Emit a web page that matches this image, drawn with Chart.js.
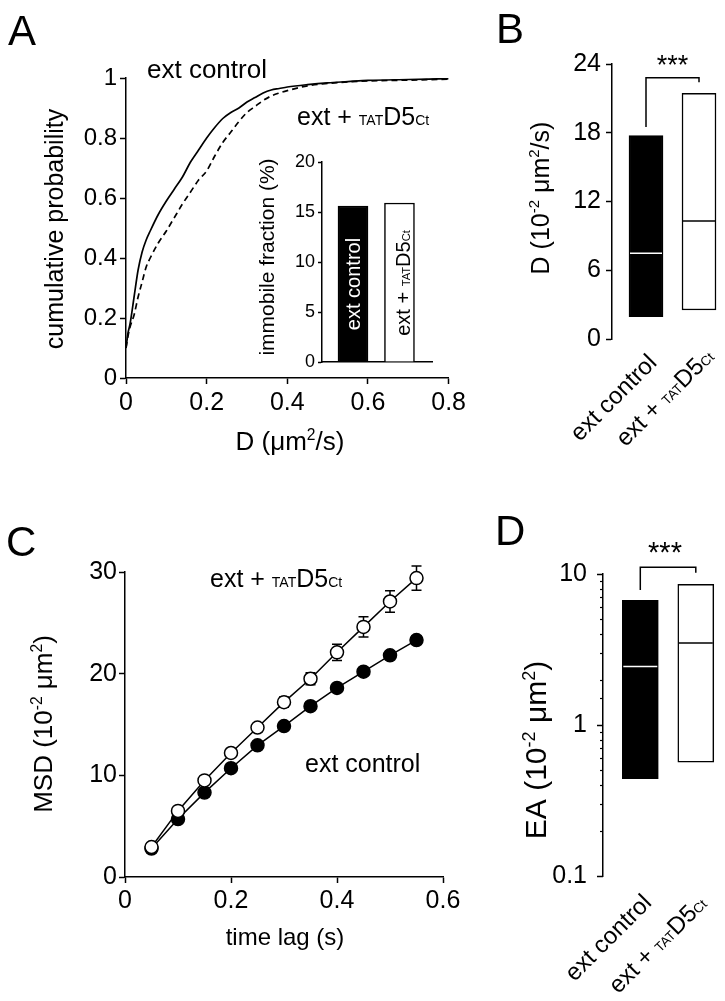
<!DOCTYPE html>
<html>
<head>
<meta charset="utf-8">
<script src="https://cdn.jsdelivr.net/npm/chart.js@4.4.1/dist/chart.umd.min.js"></script>
<style>
  html, body { margin: 0; padding: 0; background: #fff; }
  body { width: 725px; height: 1001px; position: relative; overflow: hidden; }
  canvas { position: absolute; }
</style>
</head>
<body>
<canvas id="cA" width="470" height="470" style="left:0px;top:0px"></canvas>
<canvas id="cI" width="220" height="240" style="left:230px;top:140px"></canvas>
<canvas id="cB" width="245" height="480" style="left:480px;top:0px"></canvas>
<canvas id="cC" width="470" height="470" style="left:0px;top:500px"></canvas>
<canvas id="cD" width="245" height="501" style="left:480px;top:500px"></canvas>
<script>
// ---- data ----
// A: cumulative distributions of D (um2/s)
const cdfD = [0, 0.005, 0.01, 0.02, 0.03, 0.04, 0.05, 0.06, 0.08, 0.10, 0.12, 0.14, 0.16, 0.18, 0.20,
  0.22, 0.24, 0.26, 0.28, 0.30, 0.32, 0.34, 0.36, 0.38, 0.40, 0.45, 0.50, 0.55, 0.60, 0.70, 0.80];
const cdfControl = [0.10, 0.15, 0.18, 0.27, 0.36, 0.42, 0.46, 0.49, 0.545, 0.59, 0.63, 0.67, 0.72, 0.76, 0.80,
  0.835, 0.865, 0.885, 0.90, 0.92, 0.935, 0.95, 0.96, 0.965, 0.97, 0.978, 0.984, 0.988, 0.992, 0.995, 0.998];
const cdfTat = [0.10, 0.14, 0.17, 0.21, 0.27, 0.32, 0.37, 0.40, 0.45, 0.49, 0.535, 0.58, 0.62, 0.66, 0.69,
  0.74, 0.785, 0.82, 0.855, 0.885, 0.905, 0.925, 0.94, 0.95, 0.958, 0.974, 0.982, 0.987, 0.99, 0.993, 0.996];
// A inset: immobile fraction (%)
const immobileFraction = [15.6, 15.9];
// B: D (10^-2 um2/s) boxes
const dLow = [1.95, 2.53];
const dHigh = [17.75, 21.45];
const dMedian = [7.48, 10.3];
const bracketB = [22.8, 18.5, 22.4];   // top, left end, right end
// C: MSD vs time lag
const lagTimes = [0.05, 0.10, 0.15, 0.20, 0.25, 0.30, 0.35, 0.40, 0.45, 0.50, 0.55];
const msdControl = [2.8, 5.7, 8.3, 10.7, 12.95, 14.85, 16.8, 18.6, 20.2, 21.8, 23.3];
const msdTat = [2.95, 6.5, 9.5, 12.2, 14.7, 17.2, 19.5, 22.1, 24.6, 27.1, 29.4];
const semControl = [0.1, 0.15, 0.2, 0.2, 0.25, 0.25, 0.3, 0.3, 0.35, 0.35, 0.4];
const semTat = [0.15, 0.2, 0.25, 0.3, 0.35, 0.5, 0.6, 0.8, 1.0, 1.05, 1.2];
// D: EA (10^-2 um2) boxes, log scale
const eaLow = [0.441, 0.568];
const eaHigh = [6.70, 8.55];
const eaMedian = [2.44, 3.49];
const bracketD = [11.1, 7.84, 10.2];
// labels
const ctlLabel = [['ext control']];
const tatLabel = [['ext + '], ['TAT', 0.56], ['D5'], ['Ct', 0.56]];
const groupLabels = [ctlLabel, tatLabel];

// condensed face if the narrow Liberation cut is installed
function hasFont(name) {
  const c = document.createElement('canvas').getContext('2d');
  c.font = '40px monospace';
  const w1 = c.measureText('ext control 0.123').width;
  c.font = "40px '" + name + "', monospace";
  return Math.abs(c.measureText('ext control 0.123').width - w1) > 1;
}
const NARROW = hasFont('Liberation Sans Narrow');
const FONT = (NARROW ? "'Liberation Sans Narrow', " : '') + "'Liberation Sans', Arial, sans-serif";
const K = NARROW ? 1.15 : 1;
const fs = n => Math.round(n * K * 10) / 10;

Chart.defaults.font.family = FONT;
Chart.defaults.color = '#000';
Chart.defaults.animation = false;
Chart.defaults.plugins.legend.display = false;
Chart.defaults.plugins.tooltip.enabled = false;

// text with mixed sizes: parts = [text, scale, rise]
function rich(ctx, parts, x, y, size, o) {
  o = o || {};
  ctx.save();
  ctx.translate(x, y);
  if (o.rot) ctx.rotate(o.rot);
  ctx.fillStyle = o.color || '#000';
  ctx.textBaseline = 'alphabetic';
  ctx.textAlign = 'left';
  const fnt = p => Math.round(size * (p[1] || 1) * 10) / 10 + 'px ' + FONT;
  let w = 0;
  parts.forEach(p => { ctx.font = fnt(p); w += ctx.measureText(p[0]).width; });
  let cx = o.align === 'center' ? -w / 2 : o.align === 'right' ? -w : 0;
  parts.forEach(p => {
    ctx.font = fnt(p);
    ctx.fillText(p[0], cx, -(p[2] || 0) * size);
    cx += ctx.measureText(p[0]).width;
  });
  ctx.restore();
}

function textPlugin(offX, offY, items) {
  return {
    id: 'texts',
    afterDraw(chart) {
      items.forEach(t => rich(chart.ctx, t.parts, t.x - offX, t.y - offY, t.fixed ? t.size : fs(t.size),
        { rot: t.rot, align: t.align, color: t.color }));
    }
  };
}

const sup = t => [t, 0.6, 0.38];
const ROT = -Math.PI / 2;
const LETTER = NARROW ? 45 : 42;
const axisGrid = len => ({ drawOnChartArea: false, tickLength: len, tickColor: '#000', tickWidth: 1.5 });
const axisBorder = { color: '#000', width: 1.5 };
const plain = v => String(Math.round(v * 100) / 100);

// box plots: median line, bracket, rotated group labels (offsets per label)
function boxPlugin(medians, bracket, offs) {
  return {
    id: 'boxes',
    afterDatasetsDraw(chart) {
      const ctx = chart.ctx, x = chart.scales.x, y = chart.scales.y;
      const bars = chart.getDatasetMeta(0).data;
      ctx.save();
      ctx.lineWidth = 1.5;
      medians.forEach((m, i) => {
        const b = bars[i], py = y.getPixelForValue(m);
        ctx.strokeStyle = i === 0 ? '#fff' : '#000';
        ctx.beginPath();
        ctx.moveTo(b.x - b.width / 2 + 1, py);
        ctx.lineTo(b.x + b.width / 2 - 1, py);
        ctx.stroke();
      });
      const x0 = x.getPixelForValue(0), x1 = x.getPixelForValue(1);
      ctx.strokeStyle = '#000';
      ctx.beginPath();
      ctx.moveTo(x0, y.getPixelForValue(bracket[1]));
      ctx.lineTo(x0, y.getPixelForValue(bracket[0]));
      ctx.lineTo(x1, y.getPixelForValue(bracket[0]));
      ctx.lineTo(x1, y.getPixelForValue(bracket[2]));
      ctx.stroke();
      ctx.restore();
      groupLabels.forEach((parts, i) => {
        rich(ctx, parts, x.getPixelForValue(i) + offs[i][0], chart.chartArea.bottom + offs[i][1], fs(24),
          { rot: -Math.PI / 4, align: 'right' });
      });
    }
  };
}

// ---- A ----
new Chart(document.getElementById('cA'), {
  type: 'line',
  data: {
    datasets: [
      { data: cdfD.map((d, i) => ({ x: d, y: cdfControl[i] })), borderColor: '#000', borderWidth: 1.7,
        pointRadius: 0, cubicInterpolationMode: 'monotone' },
      { data: cdfD.map((d, i) => ({ x: d, y: cdfTat[i] })), borderColor: '#000', borderWidth: 1.7,
        borderDash: [6, 4], pointRadius: 0, cubicInterpolationMode: 'monotone' }
    ]
  },
  options: {
    responsive: false,
    layout: { padding: { left: 0, top: 78, right: 20, bottom: 0 } },
    scales: {
      x: { type: 'linear', min: 0, max: 0.8,
        ticks: { stepSize: 0.2, font: { size: fs(25) }, padding: 4, maxRotation: 0, callback: plain },
        grid: axisGrid(6), border: axisBorder, afterFit: s => { s.height = 92; } },
      y: { min: 0, max: 1, ticks: { stepSize: 0.2, font: { size: fs(24) }, padding: 3, callback: plain },
        grid: axisGrid(6), border: axisBorder, afterFit: s => { s.width = 126; } }
    }
  },
  plugins: [textPlugin(0, 0, [
    { parts: [['A']], x: 8, y: 45, size: LETTER, fixed: true },
    { parts: ctlLabel, x: 147, y: 78, size: 26 },
    { parts: tatLabel, x: 297, y: 125, size: 25 },
    { parts: [['D (μm'], sup('2'), ['/s)']], x: 290, y: 450, size: 26, align: 'center' },
    { parts: [['cumulative probability']], x: 63, y: 229, size: 25, rot: ROT, align: 'center' }
  ])]
});

// ---- A inset ----
new Chart(document.getElementById('cI'), {
  type: 'bar',
  data: {
    datasets: [{ data: immobileFraction.map((v, i) => ({ x: i, y: v })), backgroundColor: ['#000', '#fff'],
      borderColor: '#000', borderWidth: 1.5, barThickness: 30 }]
  },
  options: {
    responsive: false,
    layout: { padding: { left: 0, top: 22, right: 18, bottom: 0 } },
    scales: {
      x: { type: 'linear', offset: false, min: -0.667, max: 1.70, ticks: { display: false },
        grid: { offset: false, drawOnChartArea: false, drawTicks: false }, border: axisBorder,
        afterFit: s => { s.height = 18; } },
      y: { min: 0, max: 20, ticks: { stepSize: 5, font: { size: fs(18) }, padding: 3 },
        grid: axisGrid(4), border: axisBorder, afterFit: s => { s.width = 92; } }
    }
  },
  plugins: [textPlugin(230, 140, [
    { parts: [['immobile fraction (%)']], x: 274, y: 257, size: 21, rot: ROT, align: 'center' },
    { parts: ctlLabel, x: 360, y: 284, size: 20, rot: ROT, align: 'center', color: '#fff' },
    { parts: tatLabel, x: 410, y: 283, size: 20, rot: ROT, align: 'center' }
  ])]
});

// ---- B ----
new Chart(document.getElementById('cB'), {
  type: 'bar',
  data: {
    datasets: [{ data: dLow.map((v, i) => ({ x: i, y: [v, dHigh[i]] })), backgroundColor: ['#000', '#fff'],
      borderColor: '#000', borderWidth: 1.5, borderSkipped: false, barThickness: 34 }]
  },
  options: {
    responsive: false,
    layout: { padding: { left: 0, top: 64, right: 5, bottom: 141 } },
    scales: {
      x: { type: 'linear', display: false, offset: false, grid: { offset: false }, min: -0.6415, max: 1.396 },
      y: { min: 0, max: 24, ticks: { stepSize: 6, font: { size: fs(25) }, padding: 5 },
        grid: axisGrid(6), border: axisBorder, afterFit: s => { s.width = 132; } }
    }
  },
  plugins: [boxPlugin(dMedian, bracketB, [[12, 25], [16, 19]]), textPlugin(480, 0, [
    { parts: [['B']], x: 496, y: 43, size: LETTER, fixed: true },
    { parts: [['***']], x: 672.5, y: 74, size: 27, align: 'center' },
    { parts: [['D (10'], sup('-2'), [' μm'], sup('2'), ['/s)']], x: 548.5, y: 198, size: 25, rot: ROT, align: 'center' }
  ])]
});

// ---- C ----
function errorBars(sems) {
  return {
    id: 'errbars',
    beforeDatasetsDraw(chart) {
      const ctx = chart.ctx, x = chart.scales.x, y = chart.scales.y;
      ctx.save();
      ctx.strokeStyle = '#000';
      ctx.lineWidth = 1.5;
      chart.data.datasets.forEach((ds, k) => {
        ds.data.forEach((p, i) => {
          const px = x.getPixelForValue(p.x);
          const hi = y.getPixelForValue(p.y + sems[k][i]), lo = y.getPixelForValue(p.y - sems[k][i]);
          ctx.beginPath();
          ctx.moveTo(px, lo); ctx.lineTo(px, hi);
          ctx.moveTo(px - 5, hi); ctx.lineTo(px + 5, hi);
          ctx.moveTo(px - 5, lo); ctx.lineTo(px + 5, lo);
          ctx.stroke();
        });
      });
      ctx.restore();
    }
  };
}

new Chart(document.getElementById('cC'), {
  type: 'line',
  data: {
    datasets: [
      { data: lagTimes.map((t, i) => ({ x: t, y: msdTat[i] })), borderColor: '#000', borderWidth: 1.5,
        pointRadius: 6.5, pointBackgroundColor: '#fff', pointBorderColor: '#000', pointBorderWidth: 1.5, clip: false },
      { data: lagTimes.map((t, i) => ({ x: t, y: msdControl[i] })), borderColor: '#000', borderWidth: 1.5,
        pointRadius: 6.5, pointBackgroundColor: '#000', pointBorderColor: '#000', pointBorderWidth: 1.5, clip: false }
    ]
  },
  options: {
    responsive: false,
    layout: { padding: { left: 0, top: 72, right: 27, bottom: 0 } },
    scales: {
      x: { type: 'linear', min: 0, max: 0.6,
        ticks: { stepSize: 0.2, font: { size: fs(25) }, padding: 3, maxRotation: 0, callback: plain },
        grid: axisGrid(6), border: axisBorder, afterFit: s => { s.height = 93; } },
      y: { min: 0, max: 30, ticks: { stepSize: 10, font: { size: fs(25) }, padding: 2 },
        grid: axisGrid(6), border: axisBorder, afterFit: s => { s.width = 125; } }
    }
  },
  plugins: [errorBars([semTat, semControl]), textPlugin(0, 500, [
    { parts: [['C']], x: 6, y: 556, size: LETTER, fixed: true },
    { parts: tatLabel, x: 210, y: 587, size: 25 },
    { parts: ctlLabel, x: 305, y: 772, size: 25 },
    { parts: [['time lag (s)']], x: 285, y: 945, size: 24, align: 'center' },
    { parts: [['MSD (10'], sup('-2'), [' μm'], sup('2'), [')']], x: 52, y: 724, size: 26, rot: ROT, align: 'center' }
  ])]
});

// ---- D ----
const isDecade = v => Math.abs(Math.log10(v) - Math.round(Math.log10(v))) < 1e-6;
const logTicks = {
  id: 'logticks',
  afterDraw(chart) {
    const ctx = chart.ctx, y = chart.scales.y, ax = chart.chartArea.left;
    ctx.save();
    ctx.strokeStyle = '#000';
    y.ticks.forEach(t => {
      const py = Math.round(y.getPixelForValue(t.value)) + 0.5;
      const len = isDecade(t.value) ? 6 : 3;
      ctx.lineWidth = isDecade(t.value) ? 1.5 : 1.2;
      ctx.beginPath(); ctx.moveTo(ax - len, py); ctx.lineTo(ax, py); ctx.stroke();
    });
    ctx.restore();
  }
};

new Chart(document.getElementById('cD'), {
  type: 'bar',
  data: {
    datasets: [{ data: eaLow.map((v, i) => ({ x: i, y: [v, eaHigh[i]] })), backgroundColor: ['#000', '#fff'],
      borderColor: '#000', borderWidth: 1.5, borderSkipped: false, barThickness: 36 }]
  },
  options: {
    responsive: false,
    layout: { padding: { left: 0, top: 74, right: 5, bottom: 125 } },
    scales: {
      x: { type: 'linear', display: false, offset: false, grid: { offset: false }, min: -0.672, max: 1.436 },
      y: { type: 'logarithmic', min: 0.1, max: 10,
        ticks: { autoSkip: false, font: { size: fs(25) }, padding: 8,
          callback: v => isDecade(v) ? (v < 1 ? '0.1' : String(Math.round(v))) : '' },
        grid: { display: false }, border: axisBorder, afterFit: s => { s.width = 123; } }
    }
  },
  plugins: [logTicks, boxPlugin(eaMedian, bracketD, [[12.5, 28], [12, 29]]), textPlugin(480, 500, [
    { parts: [['D']], x: 495, y: 545, size: LETTER, fixed: true },
    { parts: [['***']], x: 665, y: 562, size: 29, align: 'center' },
    { parts: [['EA (10'], sup('-2'), [' μm'], sup('2'), [')']], x: 546, y: 750, size: 30, rot: ROT, align: 'center' }
  ])]
});
</script>
</body>
</html>
